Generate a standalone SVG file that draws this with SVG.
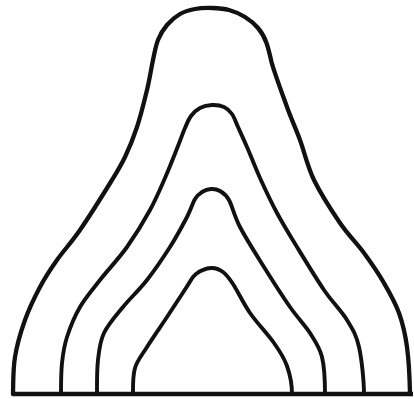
<svg xmlns="http://www.w3.org/2000/svg" width="414" height="399" viewBox="0 0 414 399">
<style>
.c{fill:none;stroke:#111;stroke-width:3.9;stroke-linecap:round;stroke-linejoin:round}
.o{stroke-width:4.3}
.b{fill:none;stroke:#111;stroke-width:4.5;stroke-linecap:butt}
</style>
<rect width="414" height="399" fill="#fff"/>
<g id="arch1"><path class="c o" d="M13,394 C13.3,382 13,369.3 15,357 C17,344.7 20.8,331.7 25,320 C29.2,308.3 34.7,297 40,287 C45.3,277 50.3,269.5 57,260 C63.7,250.5 70.8,243.3 80,230 C89.2,216.7 104.5,192.2 112,180 C119.5,167.8 120.8,165.8 125,157 C129.2,148.2 133.3,138.2 137,127 C140.7,115.8 144.3,101.2 147,90 C149.7,78.8 151.2,68.3 153,60 C154.8,51.7 155.7,45.8 158,40 C160.3,34.2 163.3,29.3 167,25 C170.7,20.7 175.3,16.7 180,14 C184.7,11.3 189.7,10 195,9 C200.3,8 206.3,7.8 212,8 C217.7,8.2 223.5,8.5 229,10 C234.5,11.5 240.2,14 245,17 C249.8,20 254.3,23.7 258,28 C261.7,32.3 264.5,37.3 266.5,43 C268.5,48.7 269.7,54 271.5,62 C274.5,73 282.3,94 287,107 C291.7,120 295.5,127.8 300,140 C304.5,152.2 307.3,166.2 314,180 C320.7,193.8 331.7,210.8 340,223 C348.3,235.2 356.7,243 364,253 C371.3,263 378.2,273 384,283 C389.8,293 395.2,302.3 399,313 C402.8,323.7 405.2,333.5 407,347 C408.8,360.5 409.7,379 410,394"/></g>
<g id="arch2"><path class="c" d="M61,394 C61,382 61,372.5 62,363 C63,353.5 64,346.3 67,337 C70,327.7 74.5,316.5 80,307 C85.5,297.5 92.2,290 100,280 C107.8,270 118.7,258.7 127,247 C135.3,235.3 143.7,221.5 150,210 C156.3,198.5 160.3,188.7 165,178 C169.7,167.3 174.7,154.3 178,146 C181.3,137.7 182.8,133 185,128 C187.2,123 188.5,119.3 191,116 C193.5,112.7 196.5,109.8 200,108 C203.5,106.2 208,105.2 212,105 C216,104.8 220.7,105.5 224,107 C227.3,108.5 229.7,110.7 232,114 C234.3,117.3 235.5,121.5 238,127 C240.5,132.5 243.3,138.5 247,147 C250.7,155.5 255,167 260,178 C265,189 270.8,201.5 277,213 C283.2,224.5 289.2,234.2 297,247 C304.8,259.8 315.7,277.8 324,290 C332.3,302.2 341.2,310.5 347,320 C352.8,329.5 356.2,334.7 359,347 C361.8,359.3 364,382 364,394"/></g>
<g id="arch3"><path class="c" d="M97,394 C97,383 96.8,370.2 98,360 C99.2,349.8 99.8,341.8 104,333 C108.2,324.2 115.8,315.8 123,307 C130.2,298.2 139.2,290 147,280 C154.8,270 163.3,257.5 170,247 C176.7,236.5 182.8,225 187,217 C191.2,209 192.5,203.2 195,199 C197.5,194.8 199.3,193.7 202,192 C204.7,190.3 208,189.2 211,189 C214,188.8 217,189.2 220,191 C223,192.8 225.7,194 229,200 C232.3,206 234.2,215.8 240,227 C245.8,238.2 255.7,253.7 264,267 C272.3,280.3 282.3,296 290,307 C297.7,318 304.7,324.7 310,333 C315.3,341.7 319.5,346.8 322,357 C324.5,367.2 325,383 325,394"/></g>
<g id="arch4"><path class="c" d="M133,394 C133,385 132.7,375.8 135,368 C137.3,360.2 141.7,355.5 147,347 C152.3,338.5 160.5,326.8 167,317 C173.5,307.2 181.2,295.2 186,288 C190.8,280.8 191.8,277.3 196,274 C200.2,270.7 206.5,268.3 211,268 C215.5,267.7 219.3,269.3 223,272 C226.7,274.7 228.5,277.2 233,284 C237.5,290.8 243.2,303.2 250,313 C256.8,322.8 267.8,334.2 274,343 C280.2,351.8 284,357.5 287,366 C290,374.5 292,385 292,394"/></g>
<g id="baseline"><line class="b" x1="13" y1="394" x2="413" y2="394"/></g>
</svg>
